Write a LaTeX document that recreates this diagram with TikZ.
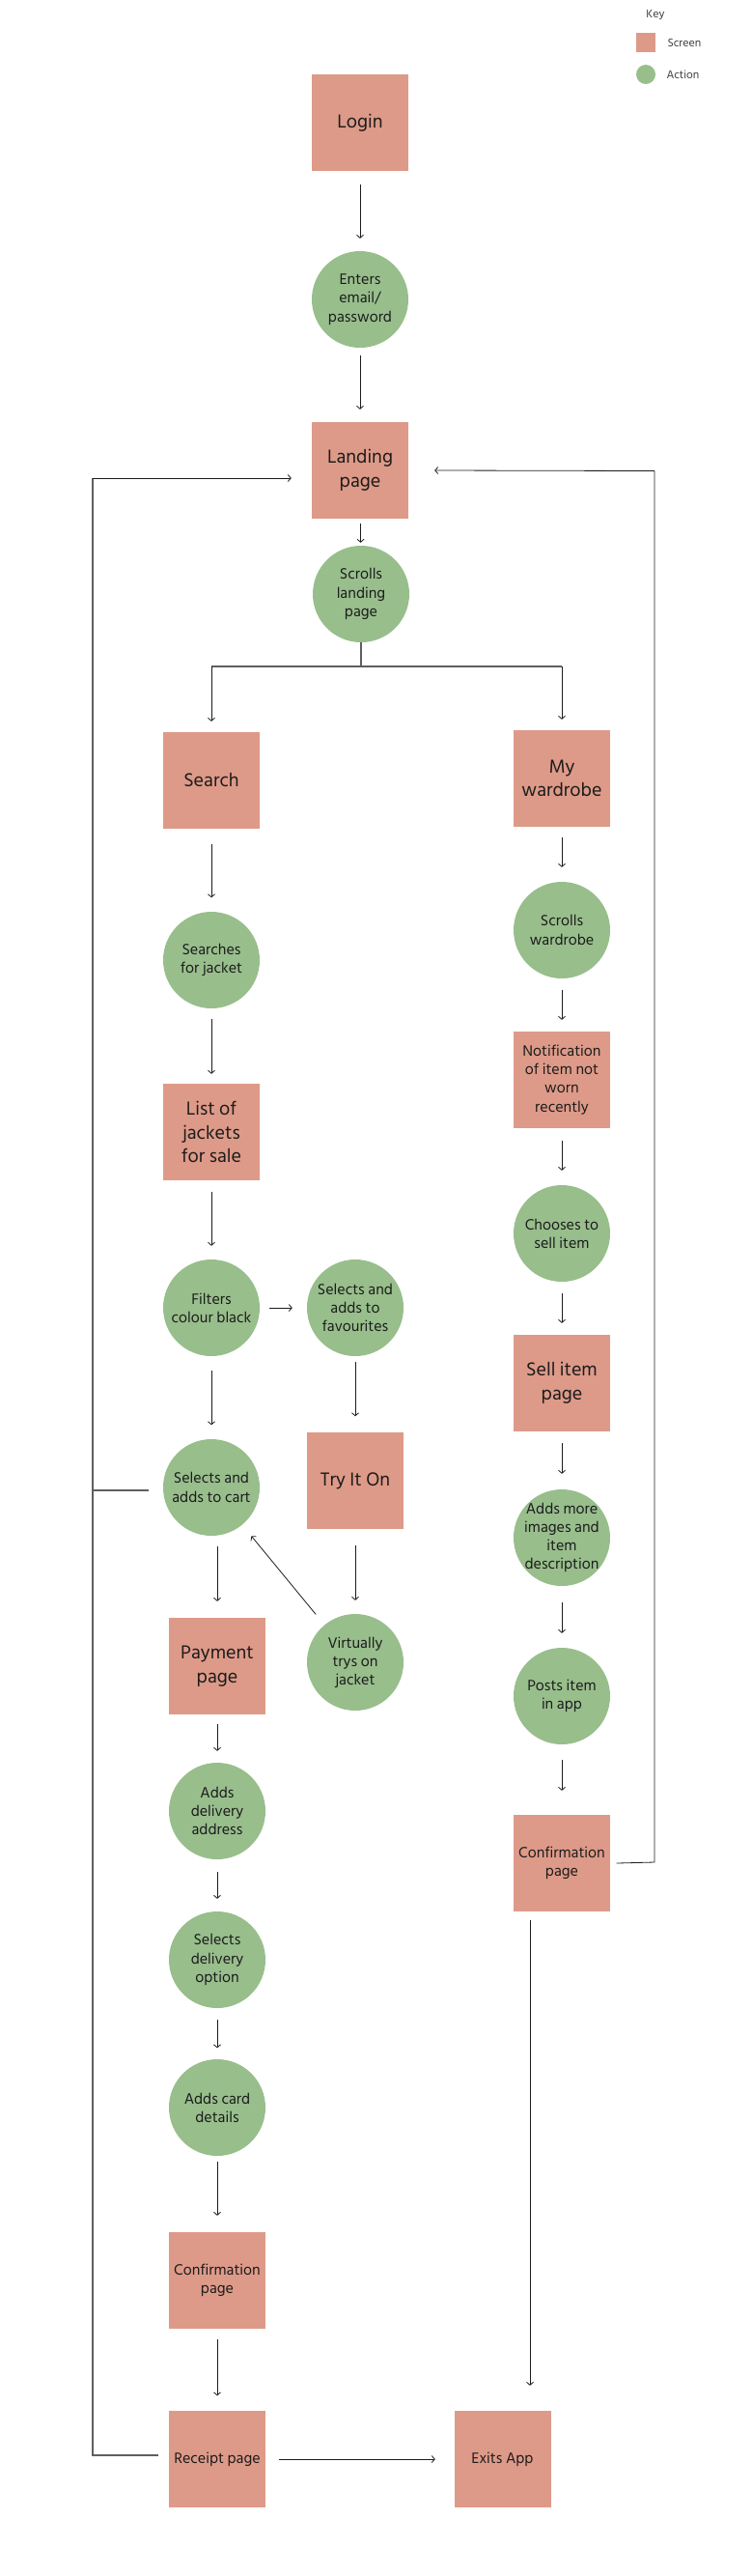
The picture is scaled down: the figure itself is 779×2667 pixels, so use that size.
\documentclass[tikz,border=0pt]{standalone}
\usepackage{fontspec}
\setmainfont{Hind Siliguri}
\usetikzlibrary{arrows.meta,calc}
\definecolor{scr}{RGB}{222,154,136}
\definecolor{act}{RGB}{152,190,140}
\definecolor{ink}{RGB}{28,28,28}
\definecolor{loopc}{RGB}{95,95,95}
\begin{document}
\begin{tikzpicture}[x=1pt,y=-1pt,
  big/.style={font=\fontsize{20}{24.5}\selectfont},
  small/.style={font=\fontsize{16}{19.2}\selectfont},
  legendtxt/.style={font=\fontsize{12}{14}\selectfont, text=ink!85},
  screen/.style={rectangle, fill=scr, minimum width=100pt, minimum height=100pt, inner sep=0pt, align=center, text=ink},
  action/.style={circle, fill=act, minimum size=100pt, inner sep=0pt,
    label={[small, align=center, text=ink]center:#1}},
  arr/.style={draw=ink, line width=0.8pt, -{Straight Barb[length=3pt,width=7pt]}},
  conn/.style={draw=ink, line width=0.8pt},
  loopline/.style={draw=loopc, line width=1.3pt},
]
\useasboundingbox (0,0) rectangle (779,2667);

% legend
\node[legendtxt] (keyt) at (679,15) {Key};
\node[rectangle, fill=scr, minimum size=20pt, inner sep=0pt] (keysq) at (669,44) {};
\node[legendtxt, anchor=west] (keyscr) at (688,44) {Screen};
\node[circle, fill=act, minimum size=20pt, inner sep=0pt] (keyci) at (669,77) {};
\node[legendtxt, anchor=west] (keyact) at (687,77) {Action};

% main column
\node[screen, big] (login) at (373,127) {Login};
\node[action={Enters\\email/\\password}] (email) at (373,310) {};
\node[screen, big] (landing) at (373,487) {Landing\\page};
\node[action={Scrolls\\landing\\page}] (scrollland) at (374,615) {};

% left branch
\node[screen, big] (search) at (219,808) {Search};
\node[action={Searches\\for jacket}] (searches) at (219,994) {};
\node[screen, big] (list) at (219,1172) {List of\\jackets\\for sale};
\node[action={Filters\\colour black}] (filters) at (219,1354) {};
\node[action={Selects and\\adds to\\favourites}] (favs) at (368,1354) {};
\node[action={Selects and\\adds to cart}] (cart) at (219,1540) {};
\node[screen, big] (tryon) at (368,1533) {Try It On};
\node[action={Virtually\\trys on\\jacket}] (virtual) at (368,1721) {};
\node[screen, big] (payment) at (225,1725) {Payment\\page};
\node[action={Adds\\delivery\\address}] (address) at (225,1875) {};
\node[action={Selects\\delivery\\option}] (deloption) at (225,2029) {};
\node[action={Adds card\\details}] (card) at (225,2182) {};
\node[screen, small] (confirmL) at (225,2361) {Confirmation\\page};
\node[screen, small] (receipt) at (225,2546) {Receipt page};
\node[screen, small] (exits) at (520.5,2546) {Exits App};

% right branch
\node[screen, big] (wardrobe) at (582,806) {My\\wardrobe};
\node[action={Scrolls\\wardrobe}] (scrollw) at (582,963) {};
\node[screen, small] (notif) at (582,1118) {Notification\\of item not\\worn\\recently};
\node[action={Chooses to\\sell item}] (chooses) at (582,1277) {};
\node[screen, big] (sell) at (582,1432) {Sell item\\page};
\node[action={Adds more\\images and\\item\\description}] (moreimg) at (582,1592) {};
\node[action={Posts item\\in app}] (posts) at (582,1756) {};
\node[screen, small] (confirmR) at (582,1929) {Confirmation\\page};

% connectors, main column
\draw[arr, shorten <=14pt, shorten >=13pt] (login) -- (email);
\draw[arr, shorten <=8pt, shorten >=13pt] (email) -- (landing);
\draw[arr, shorten <=5pt, shorten >=3pt] (landing) -- (scrollland);

% branch
\coordinate (bj) at (374,690);
\coordinate (bl) at (search.north |- bj);
\coordinate (br) at (wardrobe.north |- bj);
\draw[loopline] (scrollland.south) -- (bj);
\draw[loopline] (bl) -- (br);
\draw[arr, shorten >=11pt] (bl) -- (search.north);
\draw[arr, shorten >=11pt] (br) -- (wardrobe.north);

% left branch connectors
\draw[arr, shorten <=15.5pt, shorten >=14.5pt] (search) -- (searches);
\draw[arr, shorten <=11pt, shorten >=10pt] (searches) -- (list);
\draw[arr, shorten <=11.5pt, shorten >=14pt] (list) -- (filters);
\draw[arr, shorten <=10pt, shorten >=15pt] (filters) -- (favs);
\draw[arr, shorten <=15pt, shorten >=14.5pt] (filters) -- (cart);
\draw[arr, shorten <=6pt, shorten >=16.5pt] (favs) -- (tryon);
\draw[arr, shorten <=17pt, shorten >=14pt] (tryon) -- (virtual);
\draw[arr, shorten <=14pt, shorten >=15pt] (virtual) -- (cart);
\draw[arr, shorten <=11pt, shorten >=17pt] (cart.south -| payment.north) -- (payment.north);
\draw[arr, shorten <=9.5pt, shorten >=12pt] (payment) -- (address);
\draw[arr, shorten <=12.5pt, shorten >=13pt] (address) -- (deloption);
\draw[arr, shorten <=12pt, shorten >=11.5pt] (deloption) -- (card);
\draw[arr, shorten <=6pt, shorten >=17pt] (card) -- (confirmL);
\draw[arr, shorten <=11pt, shorten >=15.5pt] (confirmL) -- (receipt);
\draw[arr, shorten <=14pt, shorten >=19.5pt] (receipt) -- (exits);

% right branch connectors
\draw[arr, shorten <=10.5pt, shorten >=15pt] (wardrobe) -- (scrollw);
\draw[arr, shorten <=11.5pt, shorten >=12pt] (scrollw) -- (notif);
\draw[arr, shorten <=13pt, shorten >=15pt] (notif) -- (chooses);
\draw[arr, shorten <=12pt, shorten >=12pt] (chooses) -- (sell);
\draw[arr, shorten <=12pt, shorten >=16pt] (sell) -- (moreimg);
\draw[arr, shorten <=17pt, shorten >=15pt] (moreimg) -- (posts);
\draw[arr, shorten <=16pt, shorten >=25pt] (posts) -- (confirmR);
\draw[arr, shorten <=8.5pt, shorten >=26pt] (confirmR.south -| 549,0) -- (exits.north -| 549,0);

% left loop back to landing page
\coordinate (lb) at (96,2542);
\coordinate (lt) at (96,495);
\coordinate (lc) at (96,1543);
\draw[loopline] ($(receipt.west)+(-10.5,-4)$) -- (lb) -- (lt);
\draw[loopline] ($(cart.west)+(-14.5,3)$) -- (lc);
\draw[arr] (lt) -- ($(landing.west)+(-21,8)$);

% right loop back to landing page
\coordinate (rb) at (678,1928);
\coordinate (rt) at (678,487.5);
\draw[conn] ($(confirmR.east)+(6.5,0)$) -- (rb) -- (rt);
\draw[arr] (rt) -- ($(landing.east)+(27,0)$);
\end{tikzpicture}
\end{document}
